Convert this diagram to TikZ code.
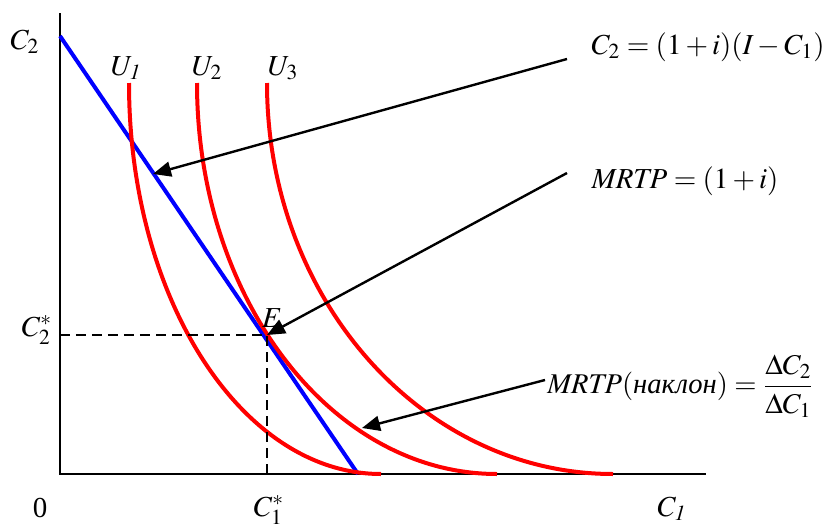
\documentclass[tikz,border=0pt]{standalone}
\usepackage{amsmath}
\usepackage{mathptmx}
\usepackage[no-math]{fontspec}
\setmainfont{Liberation Serif}
\usetikzlibrary{arrows.meta}

\begin{document}
\begin{tikzpicture}[x=0.5pt, y=0.5pt,
  font=\fontsize{14.5}{17}\selectfont,
  indiff/.style={red, line width=2pt},
  pointer/.style={line width=1.2pt, -{Triangle[length=9pt, width=7.5pt]}}]
  \useasboundingbox (-60,-53) rectangle (777,474);
  \draw[line width=1pt] (0,461) -- (0,0) -- (646,0);

  % budget line and indifference curves
  \draw[blue, line width=2pt] (0,438) -- (298,0);
  \draw[indiff] (69,391)  arc[start angle=180, end angle=270, x radius=252, y radius=391];
  \draw[indiff] (137,391) arc[start angle=180, end angle=270, x radius=300, y radius=391];
  \draw[indiff] (207,391) arc[start angle=180, end angle=270, x radius=346, y radius=391];

  \coordinate (E) at (207,139);
  \draw[dashed, dash pattern=on 5pt off 3pt, line width=1pt] (0,139) -- (E) -- (207,0);

  \node (c2)  at (-35,432) {$C_2$};
  \node (u1)  at (66,406)  {$U_{\mathit{1}}$};
  \node (u2)  at (147,406) {$U_2$};
  \node (u3)  at (223,406) {$U_3$};
  \node (c2s) at (-23,144) {$C_2^*$};
  \node (o)   at (-20,-34) {0};
  \node (c1s) at (209,-36) {$C_1^*$};
  \node (c1)  at (612,-35) {$C_{\mathit{1}}$};
  \node (eE)  at (212,156) {$E$};

  \node (eqa) at (648,427) {$C_2=(1+i)(I-C_1)$};
  \node (eqb) at (625,293) {$\mathit{MRTP}=(1+i)$};
  \node[anchor=west, inner sep=0pt, font=\fontsize{14.3}{17}\selectfont] (eqc) at (487,88)
    {$\mathit{MRTP}(\textit{наклон})=\dfrac{\Delta C_2}{\Delta C_1}$};

  % pointers
  \coordinate (ta) at (507,415);
  \coordinate (ha) at (93,300);
  \coordinate (tb) at (507,301);
  \coordinate (tc) at (485,94);
  \coordinate (hc) at (302,46);
  \draw[pointer] (ta) -- (ha);
  \draw[pointer] (tb) -- (E);
  \draw[pointer] (tc) -- (hc);
\end{tikzpicture}
\end{document}
